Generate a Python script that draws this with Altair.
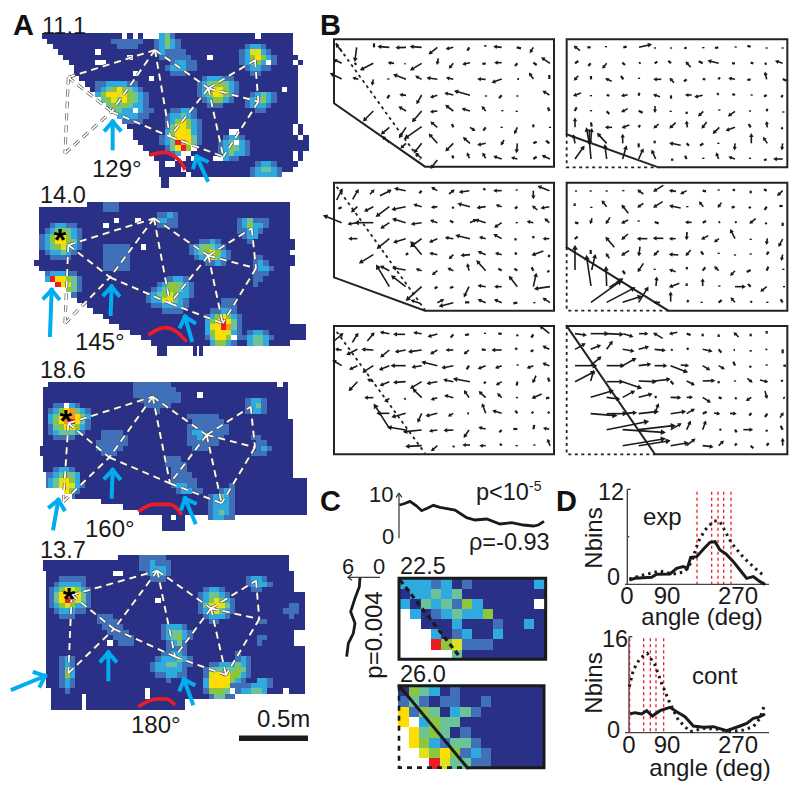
import math
import altair as alt
import pandas as pd

# ---------- palette of the firing-rate maps ----------
LEVELS = {"0": "#2a3086", "1": "#3f70b8", "2": "#2eaae1", "3": "#6cc398", "4": "#8cc63f",
          "5": "#dde21f", "6": "#ffdd00", "7": "#f7941d", "8": "#ed1c24"}
NAVY_CELL = 16 / 3

# ---------- panel A maps: each row lists "column:level" change points ----------
MAP1 = [
"0:0 15:. 16:0 17:. 18:0 19:. 22:2 23:3 24:1 25:0 40:. 41:0 47:.",
"1:0 13:1 19:0 21:1 22:2 23:4 24:2 25:1 26:0 47:.",
"2:0 14:1 18:0 21:1 22:2 23:3 24:2 25:1 26:0 38:1 39:2 41:1 42:0 47:.",
"3:0 10:. 11:0 21:1 22:2 23:1 25:1 27:0 37:1 38:2 39:5 41:2 42:1 43:0 47:.",
"4:0 16:. 17:0 22:1 24:1 27:1 28:0 31:. 32:0 37:1 38:2 39:4 40:6 41:4 42:2 43:1 44:0 48:.",
"5:0 10:. 12:0 24:1 25:2 27:1 29:0 37:1 38:2 39:3 40:4 41:2 42:. 43:1 44:0 47:. 48:0 49:.",
"6:0 23:1 24:2 27:1 29:0 38:1 39:2 41:1 43:0 48:.",
"6:0 17:. 18:0 24:1 27:0 39:1 41:0 48:.",
"7:0 20:. 21:0 30:1 31:2 34:1 36:0 48:.",
"8:0 10:1 12:2 16:1 18:0 29:1 30:2 31:3 32:4 34:3 35:2 36:1 37:0 48:.",
"9:0 10:1 11:2 12:3 13:4 14:6 15:4 16:3 17:2 18:1 19:0 29:1 30:2 31:4 32:5 33:6 34:4 35:2 36:1 37:0 45:. 46:0 48:.",
"10:2 11:4 12:6 14:5 15:6 16:4 17:3 18:2 19:1 20:0 29:1 30:2 31:4 32:6 33:5 34:4 35:2 36:1 37:0 39:1 40:2 41:3 42:2 43:1 44:0 48:.",
"11:3 12:4 13:5 14:4 15:6 16:4 17:3 18:2 19:1 20:0 30:1 31:2 32:4 34:2 35:1 36:0 38:1 39:2 40:3 41:4 42:2 43:1 44:0 48:.",
"12:3 13:4 14:3 15:4 16:3 17:2 19:1 20:0 31:1 34:0 38:1 39:2 42:1 43:0 48:.",
"13:3 15:2 17:. 18:2 19:1 21:0 24:1 26:2 28:1 29:0 40:1 42:0 48:.",
"14:2 18:1 20:0 23:1 24:2 26:3 27:2 28:1 29:0 48:.",
"15:1 19:0 23:1 24:2 25:4 26:6 27:4 28:2 29:1 30:0 48:.",
"16:0 23:1 24:3 25:5 26:6 27:4 28:2 29:1 30:0 47:. 48:0 49:.",
"17:0 23:2 24:4 25:6 27:5 28:2 29:1 30:0 35:. 37:0 47:. 48:0 49:.",
"17:0 22:1 23:2 24:4 25:6 28:3 29:1 30:0 34:1 35:2 37:1 38:0 48:. 49:0 50:.",
"18:0 22:1 23:2 24:3 25:8 26:7 27:6 28:3 29:1 30:0 33:1 34:2 35:3 36:. 37:2 38:1 39:0 50:.",
"19:0 23:1 24:3 25:6 26:8 27:4 28:. 29:0 33:1 34:2 35:4 36:3 37:2 38:1 39:0 50:.",
"20:0 24:1 25:2 26:. 28:0 29:0 33:1 34:2 35:3 36:2 38:1 39:0 47:. 48:0 49:.",
"21:0 25:. 27:0 28:. 29:0 32:. 34:2 35:1 37:0 47:. 48:0 49:.",
"22:0 23:. 25:0 40:1 41:2 43:1 44:0 48:.",
"22:0 26:. 27:0 39:1 40:2 41:3 43:2 44:1 45:0 47:.",
"22:0 27:. 28:0 39:1 40:2 44:1 45:.",
"22.4:0 23.8:.",
"22.4:0 23.8:.",
]
MAP2 = [
"9:0 12:1 15:0 47:.",
"0:0 12:1 15:0 47:.",
"0:0 22:1 24:2 25:1 26:0 47:.",
"0:0 14:. 15:0 18:. 19:0 21:1 22:2 24:1 26:0 37:1 38:2 39:3 40:1 43:0 47:.",
"0:0 2:1 3:2 5:1 7:0 12:. 13:0 22:1 26:0 37:1 38:2 39:4 40:2 42:1 43:0 47:.",
"0:0 1:1 2:2 3:3 4:4 5:3 6:2 7:1 8:0 37:1 39:2 41:1 42:0 47:.",
"0:1 1:2 2:4 3:5 4:6 5:4 6:2 7:1 8:0 38:1 39:2 41:0 47:.",
"0:1 1:2 2:4 3:6 5:4 6:3 7:1 8:0 30:1 32:2 33:1 34:0 39:1 40:0 48:.",
"0:1 1:2 2:3 3:4 4:5 5:3 6:2 7:1 8:0 12:1 17:0 19:. 20:0 28:1 29:2 30:3 31:4 32:3 33:2 34:1 35:0 48:.",
"0:0 1:1 2:2 4:3 5:2 6:1 7:0 12:1 17:0 28:1 29:2 30:3 31:4 32:6 33:4 34:2 35:1 36:0 47:.",
"0:0 2:1 6:0 12:1 17:0 29:1 30:2 31:3 32:5 33:3 34:2 35:1 36:0 40:1 42:0 48:.",
"-1:0 12:1 17:0 31:1 33:2 34:1 35:0 40:1 41:2 42:1 43:0 48:.",
"0:0 12:1 17:0 40:1 41:2 43:1 44:0 47:.",
"1:1 2:2 5:1 7:0 40:1 43:0 47:.",
"1:2 2:8 3:6 5:4 6:3 7:1 8:0 24:1 25:2 27:1 28:0 40:1 42:0 47:.",
"3:8 4:6 5:5 6:3 7:1 8:0 22:1 23:2 24:4 26:3 27:2 28:1 29:0 40:1 41:0 47:.",
"5:4 6:3 7:1 8:0 21:1 22:2 23:3 24:4 26:3 27:2 28:1 29:0 47:.",
"6:1 7:0 20:1 21:2 22:3 23:4 24:5 25:4 26:2 28:1 29:0 47:.",
"7:0 20:1 21:2 23:5 24:6 25:3 26:2 27:1 28:0 34:1 37:0 47:.",
"9:0 21:1 23:2 27:1 28:0 34:1 37:0 47:.",
"10:0 23:1 27:0 32:1 34:2 36:1 37:0 47:.",
"12:0 31:1 32:2 33:4 34:6 35:4 36:2 37:1 38:0 47:.",
"13:0 31:2 32:4 33:6 34:8 35:6 36:3 37:1 38:0 47:.",
"15:0 31:2 32:5 33:6 34:8 35:7 36:3 37:1 38:0 50:.",
"17:0 31:2 32:4 33:6 35:5 36:2 37:1 38:0 39:1 40:2 42:1 43:0 50:.",
"19:0 31:1 32:3 33:6 35:4 36:. 37:1 38:1 39:2 40:3 42:2 43:1 44:0 50:.",
"21:0 32:2 33:4 35:2 36:1 37:0 39:2 40:3 42:2 43:0 47:.",
"22:0 24:. 28.75:0 29.5:. 30:0 30.75:.",
"22:0 24:. 28.75:0 29.5:. 30:0 30.75:.",
]
MAP3 = [
"1:0 17:1 24:0 44:. 45:0 46:.",
"0:0 17:1 25:0 46:.",
"0:0 17:1 26:0 29:. 30:0 46:.",
"0:0 18:1 26:0 38:1 39:2 41:1 42:0 46:.",
"0:0 2:1 4:. 5:2 6:1 7:0 19:1 24:0 38:1 39:2 40:3 41:1 42:0 46:.",
"0:0 1:1 2:2 3:4 4:6 5:7 6:3 7:2 8:1 9:0 21:1 22:0 38:1 39:2 41:1 42:0 46:.",
"0:0 1:2 2:3 3:6 4:8 5:7 6:6 7:4 8:2 9:0 27:1 33:0 46:.",
"0:0 1:2 2:4 3:6 4:7 5:8 6:6 7:3 8:1 9:0 28:1 34:0 47:.",
"0:0 1:1 2:3 3:4 4:6 6:4 7:2 8:1 9:0 27:1 35:0 47:.",
"0:0 1:1 2:2 3:3 6:2 7:1 8:0 11:1 15:0 27:1 28:2 30:1 35:0 47:.",
"0:0 2:1 6:0 11:1 16:0 27:1 29:2 30:1 34:0 39:1 41:0 47:.",
"0:0 10:1 16:0 27:1 33:0 40:1 42:0 47:.",
"-0.5:0 10:1 15:0 28:1 31:0 40:1 41:2 42:1 43:0 47:.",
"-0.5:0 11:1 14:0 39:1 42:0 47:.",
"0:0 23:1 26:0 47:.",
"0:0 23:1 27:0 47:.",
"0:0 2:1 3:2 5:1 6:0 24:1 27:0 47:.",
"0.7:1 2:2 3:3 4:4 5:3 6:2 7:0 24:1 28:0 47:.",
"0.7:1 1:2 2:3 3:5 4:6 5:4 6:2 7:0 24:1 29:0 49.5:.",
"0.7:1 1:2 2:3 3:6 5:5 6:2 7:1 8:0 24:1 25:2 27:1 29:0 35:1 36:0 49.5:.",
"4:6 5:4 6:1 7:0 25:1 26:2 28:1 30:0 33:1 34:2 35:1 36:0 49.5:.",
"5.5:1 6:0 31:1 32:2 33:3 34:2 35:1 36:0 49.5:.",
"11:0 31:1 32:2 35:1 36:0 49.5:.",
"15:0 31:1 32:2 35:1 36:0 49.5:.",
"18:0 31:1 32:2 33:3 34:2 35:1 36:0 49.5:.",
"22.4:0 24:. 25:0 26.7:. 31:1 32:2 34:1 36:.",
"22.4:0 26.7:.",
"22.4:0 26.7:.",
]
MAP4 = [
"14:0 18:1 23:0 46:.",
"0:0 18:1 20:2 21:1 24:0 46:.",
"0:0 18:1 20:2 23:1 24:0 46:.",
"0.6:0 13:. 15:0 19:1 20:2 21:3 22:2 23:1 24:0 47:.",
"0.6:0 3:1 8:0 20:1 23:0 38:1 39:2 41:1 42:0 47:.",
"0.6:0 2:1 3:2 7:1 8:0 38:1 39:2 42:1 43:0 47:.",
"0.6:0 1:1 2:2 3:4 4:6 5:5 6:4 7:2 8:1 9:0 30:1 31:2 33:1 34:0 39:1 41:0 47:.",
"0.6:0 1:1 2:3 3:6 4:7 5:8 6:6 7:3 8:1 9:0 29:1 30:2 31:3 33:2 34:1 35:0 49:.",
"0.6:0 1:1 2:3 3:6 4:8 5:7 6:5 7:3 8:1 9:0 21:. 22:0 29:1 30:2 31:4 32:5 33:4 34:2 35:1 36:0 49:.",
"0.6:0 1:1 2:2 3:4 4:5 5:4 6:2 8:1 9:0 29:1 30:3 31:5 32:6 33:5 34:3 35:1 36:0 46:1 48:0 49:.",
"0.6:0 2:1 3:2 6:1 8:0 29:1 30:2 31:4 32:5 33:3 34:2 35:1 36:0 45:1 48:0 49:.",
"0.6:0 3:1 6:0 10:1 13:0 30:1 31:2 34:1 35:0 46:1 47:0 49:.",
"0.6:0 10:1 14:0 31:1 33:0 40:1 42:0 49:.",
"0.6:0 11:1 15:0 22:1 23:2 26:1 27:0 49:.",
"0.6:0 12:1 16:0 22:1 23:2 24:3 26:2 27:1 28:0 47:.",
"0.6:0 13:1 17:0 22:1 23:2 24:3 25:4 26:2 27:1 28:0 40:1 42:0 47:.",
"0.6:0 12:. 13:0 14:1 17:0 23:1 24:2 25:3 26:1 27:0 40:1 41:0 47:.",
"0.6:0 23:1 27:0 49:.",
"0.6:0 22:1 24:2 26:1 27:0 36:1 37:0 49:.",
"0.6:0 3:1 4:2 5:1 6:0 21:1 22:2 25:3 26:2 27:1 28:0 36:1 37:2 38:1 39:0 49:.",
"0.6:0 3:1 4:2 5:1 6:0 20:1 21:2 23:3 25:2 26:1 28:0 31:1 33:2 36:3 37:2 38:1 39:0 49:.",
"0.6:0 3:1 4:3 5:2 6:0 20:1 21:2 26:1 27:0 30:1 31:3 36:4 37:3 38:1 39:0 49:.",
"0.6:0 3:1 4:4 5:2 6:0 21:1 23:2 25:1 27:0 30:1 31:5 32:6 35:4 37:2 38:1 39:0 49:.",
"0.6:0 3:1 4:2 5:1 6:0 23:1 24:0 30:2 31:6 35:4 36:2 37:1 38:0 40:2 42:1 43:0 49:.",
"0.6:0 3:1 4:2 5:1 6:0 30:2 31:6 34:5 35:1 37:1 39:2 42:1 43:0 49:.",
"1.5:0 4:1 5:0 19:. 20:0 30:1 31:4 34:3 35:. 36:1 37:2 39:3 41:2 42:0 45:. 46:0 49:.",
"1.5:0 7.25:. 8:0 19:. 20:0 31:1 32:3 34:1 36:.",
"1.5:0 7.25:. 8:0 26.6:.",
"1.5:0 7.25:. 8:0 26.6:.",
]
MAP_ORIGINS = [(42.0, 33.3), (39.3, 201.7), (42.7, 381.7), (43.3, 555.0)]

# ---------- panel C maps, one character per bin ----------
BINS_C1 = ["22212010000002", "02232300000000", "2032314200000.", ".2012322400000",
           "..000200010020", "...20120020000", "...84511100000", ".....300000000"]
BINS_C2 = ["04320100000000", "13101100100000", "61430231000000", "6.243300000000",
           ".6343010000000", ".6421331000000", "..546412100000", "...85331100000"]

# ---------- panel A graph: node positions of the place-field triangulation ----------
GRAPH_EDGES = ["at", "ab", "tb", "tc", "tf", "bf", "fg", "cd", "ce", "cg", "de", "eg", "cf", "ah", "hb"]
GRAPHS = [
    ((0, 0), dict(a=(205, 232), t=(465, 150), b=(335, 335), c=(625, 265), d=(765, 180), e=(775, 305), f=(510, 410), g=(670, 470), h=(195, 460))),
    ((0, 190), dict(a=(205, 165), t=(462, 85), b=(330, 262), c=(625, 197), d=(755, 115), e=(768, 235), f=(510, 340), g=(668, 400), h=(195, 400))),
    ((0, 370), dict(a=(205, 160), t=(458, 80), b=(328, 262), c=(620, 195), d=(752, 110), e=(765, 232), f=(510, 340), g=(665, 400), h=(190, 395))),
    ((0, 550), dict(a=(215, 135), t=(472, 62), b=(342, 237), c=(633, 175), d=(768, 92), e=(778, 207), f=(525, 320), g=(678, 375), h=(205, 370))),
]
RED_ARCS = [
    ((0, 0), [(450, 465), (490, 457), (525, 470), (545, 490), (555, 510)]),
    ((0, 190), [(445, 435), (470, 420), (495, 413), (530, 425), (560, 455)]),
    ((0, 370), [(415, 425), (460, 403), (510, 403), (530, 415), (545, 435)]),
    ((0, 550), [(415, 470), (470, 447), (500, 447), (525, 465)]),
]
BLUE_ARROWS = [
    ((0, 0), [(338, 445, 338, 365), (622, 540, 590, 470)]),
    ((0, 190), [(150, 435, 155, 300), (332, 372, 335, 290), (575, 450, 555, 380)]),
    ((0, 370), [(160, 475, 175, 390), (335, 380, 338, 300), (585, 457, 555, 385)]),
    ((0, 550), [(38, 418, 135, 378), (325, 388, 325, 308), (578, 460, 552, 388)]),
]
ASTERISKS = [(60, 241), (65.7, 422), (69, 600)]
SCALE_BAR = (239, 308, 735.5, 741)

# ---------- panel B: flow vectors (tail x, tail y, head x, head y) ----------
B1 = [(66,125,50,105),(110,112,105,150),(162,112,162,100),(208,112,178,110),(258,112,232,113),(305,112,275,110),(352,112,330,130),(400,112,382,116),(448,112,442,122),(496,105,496,110),(545,112,525,110),(603,115,590,112),(640,112,632,125),
(65,160,45,150),(108,165,105,158),(160,160,125,178),(222,160,208,158),(255,160,255,163),(305,160,275,178),(355,145,352,160),(400,160,390,172),(450,158,432,162),(497,160,487,162),(545,158,528,158),(592,160,585,168),(650,165,640,158),(690,160,668,145),
(65,207,35,192),(115,208,102,204),(160,208,157,222),(205,205,205,209),(258,208,225,195),(305,208,290,200),(352,208,325,204),(400,208,383,204),(497,208,477,207),(545,207,520,216),(597,207,592,207),(640,207,630,192),(688,207,688,195),
(208,255,202,265),(258,256,243,254),(305,255,292,278),(352,256,335,261),(400,255,378,250),(450,256,408,244),(498,256,498,260),(545,256,537,265),(592,256,592,260),(688,255,672,245),
(160,303,133,330),(258,303,240,292),(305,303,280,332),(352,303,335,305),(400,303,380,288),(450,303,430,297),(497,303,488,292),(547,300,547,304),(590,302,590,306),(688,303,684,292),
(208,352,187,370),(258,352,240,380),(305,350,258,383),(352,352,335,338),(400,352,396,342),(450,352,462,360),(497,352,490,362),(545,350,545,354),(592,352,585,368),(640,352,640,343),(690,350,690,354),
(208,398,190,382),(258,400,245,412),(305,400,285,425),(352,400,330,375),(400,400,380,420),(450,400,433,385),(497,400,477,404),(552,390,545,402),(592,400,590,424),(650,395,640,400),(688,400,678,392),
(305,445,290,432),(352,450,335,472),(400,445,397,436),(448,445,443,432),(497,445,490,432),(545,447,525,440),(592,447,578,443),(650,440,640,447),(690,447,670,438)]
B2 = [(60,122,45,110),(92,112,82,112),(138,108,138,112),(200,110,190,112),(237,112,270,104),(285,112,285,116),(333,116,333,112),(380,112,373,116),(430,111,430,115),(475,112,465,114),(527,109,527,113),(572,110,562,108),(620,116,620,112),(668,112,668,116),
(55,153,45,160),(92,160,85,168),(140,160,130,172),(195,165,187,158),(242,158,237,160),(292,155,284,160),(333,160,325,152),(392,172,380,158),(428,160,416,154),(476,160,448,153),(525,160,516,160),(580,160,572,158),(620,160,614,162),(668,160,650,154),
(55,197,45,208),(93,198,93,208),(155,214,140,207),(190,208,183,198),(237,203,237,207),(304,208,285,208),(342,218,332,207),(380,208,372,214),(436,208,428,207),(480,202,475,208),(525,208,510,205),(572,208,562,210),(620,208,616,190),(680,212,668,207),
(63,249,44,256),(93,255,93,259),(148,257,140,255),(203,254,188,257),(238,248,236,257),(300,260,284,255),(333,266,333,256),(395,255,380,255),(428,256,408,260),(475,255,472,249),(525,255,517,252),(575,253,575,257),(620,255,612,260),(668,255,664,262),
(50,292,44,303),(93,300,93,304),(148,312,140,304),(203,296,188,304),(248,308,236,302),(285,288,285,304),(332,302,332,306),(380,305,380,312),(430,304,418,316),(478,298,478,302),(525,304,508,316),(570,301,570,305),(622,296,620,304),(670,304,670,308),
(45,352,45,328),(95,350,93,337),(156,352,140,352),(208,345,190,352),(240,345,236,352),(296,342,284,352),(347,338,332,352),(382,352,380,337),(440,336,428,352),(478,352,462,368),(525,352,502,360),(572,352,566,342),(622,352,620,338),(668,357,664,352),
(45,400,41,378),(88,400,80,358),(92,395,95,360),(88,358,88,400),(140,400,115,373),(188,400,188,377),(236,412,236,400),(284,400,284,392),(362,406,333,400),(387,407,380,400),(430,400,420,407),(475,398,475,402),(525,400,524,416),(574,400,574,375),(622,400,612,385),(668,400,666,416),
(45,447,70,412),(93,447,88,390),(140,447,135,408),(188,447,198,412),(236,447,248,420),(287,447,277,424),(333,449,340,449),(380,447,375,437),(430,443,430,447),(476,447,470,432),(525,447,510,442),(570,443,570,447),(620,448,612,451),(668,447,645,447)]
B3 = [(50,90,65,60),(98,88,113,62),(150,73,160,62),(180,77,210,62),(257,62,228,56),(298,70,305,62),(352,62,338,54),(387,72,400,62),(448,62,422,66),(496,60,490,55),(545,62,525,62),(590,58,590,62),(640,62,640,82),(688,62,658,50),
(65,112,55,116),(112,110,97,124),(160,110,137,122),(208,110,172,137),(257,110,220,118),(305,110,285,104),(352,110,338,112),(400,110,398,116),(450,110,418,102),(497,110,475,113),(545,110,532,106),(592,110,585,116),(652,120,640,110),(688,110,667,114),
(65,158,15,138),(112,158,88,162),(160,158,110,158),(208,158,186,173),(257,158,222,148),(305,158,278,162),(352,158,335,152),(400,158,390,152),(450,158,466,150),(497,158,470,150),(545,158,527,170),(590,156,590,160),(640,158,625,155),(688,158,677,148),
(112,206,90,206),(208,206,175,233),(257,206,225,216),(305,206,275,228),(352,206,332,215),(400,206,380,203),(450,206,412,197),(497,206,482,202),(545,206,525,195),(590,208,583,208),(640,205,640,198),(688,206,673,206),
(160,254,122,277),(305,254,275,218),(265,250,257,254),(352,254,333,250),(400,254,390,264),(450,254,427,256),(497,254,478,246),(545,254,530,250),(590,254,585,247),(670,243,640,254),(688,254,686,262),
(208,302,185,290),(257,300,222,294),(305,302,292,298),(352,302,340,312),(400,302,387,296),(447,302,443,285),(497,302,473,275),(545,302,535,296),(592,302,583,296),(640,302,635,292),(688,302,682,306),
(208,350,172,290),(257,350,218,320),(352,350,344,356),(400,350,390,354),(447,350,434,377),(497,350,478,347),(545,350,528,350),(592,350,570,322),(640,350,648,314),(690,350,648,356),
(305,350,262,388),(300,400,277,392),(352,398,368,390),(400,398,362,408),(448,397,435,397),(497,398,478,390),(545,398,527,390),(592,398,580,400),(643,396,643,400),(690,398,672,386)]
B4 = [(48,61,48,65),(92,61,92,65),(140,61,140,65),(190,60,190,64),(250,72,236,62),(310,46,284,62),(348,64,332,62),(380,62,365,70),(438,64,428,62),(476,58,476,62),(525,62,518,58),(572,70,572,62),(620,62,612,58),(668,62,655,74),
(44,108,44,100),(94,110,94,114),(140,110,128,95),(205,130,188,108),(250,100,236,110),(308,95,284,110),(362,114,333,108),(382,108,382,112),(430,110,420,98),(484,98,476,110),(524,110,515,113),(572,110,567,115),(620,110,614,120),(668,108,658,108),
(55,160,45,157),(96,145,92,158),(150,142,140,158),(204,150,188,158),(236,151,236,155),(296,160,284,156),(395,157,380,157),(438,153,428,158),(480,155,476,158),(530,155,525,158),(587,146,572,158),(620,158,616,162),(668,158,668,168),
(53,200,44,207),(163,232,140,205),(204,192,188,206),(262,206,236,206),(310,205,284,205),(347,206,332,206),(381,186,380,205),(445,197,428,206),(477,206,466,214),(525,206,513,182),(572,206,572,210),(622,205,620,220),(668,207,658,226),
(45,300,45,232),(92,240,92,252),(148,265,140,253),(207,242,188,254),(240,230,237,254),(296,242,284,254),(355,255,332,253),(392,240,380,254),(430,254,423,244),(476,248,476,252),(525,253,525,257),(572,250,572,254),(626,245,620,254),(668,254,665,268),
(93,348,80,262),(95,300,105,258),(195,312,188,302),(250,280,236,302),(284,296,284,300),(347,305,332,300),(381,298,380,291),(436,292,428,302),(476,302,466,292),(525,302,514,314),(572,300,560,306),(625,290,620,302),(670,296,670,300),
(140,348,138,295),(148,352,185,328),(288,348,290,325),(358,340,332,350),(380,348,380,340),(428,348,428,330),(478,346,478,350),(525,350,552,350),(572,350,564,342),(620,350,605,362),(672,348,672,352),
(93,397,180,335),(140,397,220,355),(188,397,240,380),(236,397,262,355),(300,397,285,398),(332,395,332,370),(382,397,385,390),(425,395,425,399),(485,390,476,398),(525,397,515,386),(575,393,572,398),(622,395,622,399),(668,397,662,388)]
B5 = [(42,78,66,58),(97,82,112,58),(142,78,160,56),(208,56,185,52),(255,58,225,58),(305,56,285,53),(352,57,328,64),(400,58,392,68),(447,58,435,60),(495,53,495,57),(545,57,535,55),(592,58,592,64),(640,58,634,68),(688,55,663,35),
(65,105,50,103),(112,103,84,117),(160,105,130,103),(208,105,185,124),(257,105,230,110),(305,105,270,110),(352,105,335,115),(400,105,382,105),(447,105,435,115),(497,105,485,103),(545,105,520,105),(592,103,585,100),(640,105,632,110),(688,103,672,95),
(65,152,42,138),(112,152,92,162),(160,152,132,170),(208,152,182,163),(257,152,218,152),(305,152,280,156),(352,152,310,142),(400,152,370,158),(447,152,440,163),(497,152,478,160),(545,152,530,158),(593,148,593,152),(640,152,625,158),(688,152,672,146),
(112,200,90,224),(160,200,146,194),(208,200,184,210),(257,200,225,202),(305,200,275,218),(352,200,325,205),(400,200,375,195),(450,200,405,192),(497,200,492,206),(545,200,532,208),(592,200,590,212),(648,182,640,200),(688,200,684,188),
(160,248,138,248),(208,250,197,258),(257,250,253,253),(305,248,282,225),(352,248,337,253),(400,248,378,242),(447,248,435,230),(497,248,480,232),(545,248,535,238),(592,246,590,250),(665,237,640,248),(688,248,678,250),
(208,295,175,295),(257,295,220,305),(305,295,295,318),(352,295,322,302),(400,295,388,302),(447,295,442,295),(497,295,488,270),(545,295,522,288),(592,295,586,287),(640,295,635,290),(688,295,684,290),
(208,340,165,272),(257,345,208,337),(305,345,255,350),(352,345,332,348),(400,345,376,346),(447,345,434,364),(497,342,480,338),(545,345,538,352),(592,342,580,342),(643,330,640,343),(688,343,674,340),
(305,392,262,394),(352,392,337,405),(402,392,400,397),(450,390,432,390),(497,392,483,392),(545,392,540,386),(590,390,590,394),(643,388,643,392),(690,392,684,376)]
B6 = [(45,56,75,60),(92,56,140,56),(140,56,185,58),(190,56,215,64),(237,56,260,56),(308,70,284,56),(352,52,332,56),(392,60,380,56),(428,56,428,64),(476,58,476,66),(536,66,524,55),(572,56,572,64),(620,48,620,56),
(45,103,72,88),(92,103,118,92),(140,103,155,82),(188,103,218,108),(236,103,262,96),(284,103,312,106),(333,103,338,106),(380,103,386,100),(428,103,452,108),(476,103,484,113),(521,105,525,105),(572,105,572,110),(620,101,618,105),(668,103,668,115),
(45,152,105,152),(92,198,100,170),(45,200,100,172),(92,152,120,128),(140,152,188,152),(188,152,224,132),(236,152,268,148),(284,152,316,152),(332,152,378,170),(362,150,382,152),(428,152,446,163),(476,152,490,160),(525,152,520,140),(572,152,570,158),(620,148,620,152),(670,152,678,152),
(140,200,185,200),(188,200,240,218),(236,198,284,200),(284,198,326,193),(332,198,340,208),(380,198,400,208),(428,198,460,197),(476,198,476,205),(525,196,525,200),(562,190,574,200),(600,195,620,200),(664,195,668,200),
(92,247,155,228),(140,247,175,252),(188,247,220,230),(236,247,272,238),(284,247,290,245),(332,247,358,248),(380,247,394,247),(428,247,448,260),(476,247,485,250),(525,248,530,252),(574,247,562,255),(615,228,620,247),(670,247,674,250),
(92,296,165,302),(140,296,195,296),(188,296,225,293),(236,296,290,290),(284,296,294,270),(332,296,372,290),(380,296,400,284),(428,296,440,290),(462,294,476,296),(510,295,525,296),(568,302,574,294),(615,306,622,296),(660,308,668,296),
(140,344,260,320),(188,344,310,352),(236,344,340,332),(332,344,360,328),(380,344,390,322),(428,344,436,322),(478,344,484,344),(525,344,530,352),(550,344,574,344),(620,344,620,350),(668,344,662,332),
(188,392,310,372),(236,392,325,378),(332,392,380,384),(380,392,402,374),(428,392,455,395),(476,392,488,380),(525,392,530,385),(572,392,580,400),(620,392,626,384),(668,392,668,374)]
VECTOR_PANELS = [((320, 10), B1), ((560, 10), B2), ((320, 170), B3), ((560, 170), B4), ((320, 315), B5), ((560, 315), B6)]

FRAMES_SOLID = [
    ((320, 10), [(42, 88), (702, 88), (702, 470), (315, 470), (42, 280), (42, 88)]),
    ((560, 10), [(20, 373), (20, 88), (682, 88), (682, 472), (295, 472), (20, 373)]),
    ((320, 170), [(42, 38), (702, 38), (702, 422), (315, 422), (42, 322), (42, 38)]),
    ((560, 170), [(20, 232), (20, 38), (682, 38), (682, 422), (325, 422), (20, 232)]),
    ((320, 315), [(42, 33), (702, 33), (702, 418), (42, 418), (42, 33)]),
    ((560, 315), [(20, 33), (682, 33), (682, 418), (285, 418), (20, 33)]),
]
FRAMES_DOTTED = [
    ((320, 10), [(48, 100), (300, 450)]),
    ((560, 10), [(20, 373), (20, 472), (295, 472)]),
    ((320, 170), [(50, 50), (315, 420)]),
    ((560, 170), [(20, 232), (20, 422), (325, 422)]),
    ((320, 315), [(50, 50), (315, 415)]),
    ((560, 315), [(20, 33), (20, 418), (285, 418)]),
]

# ---------- panel C marginal curves ----------
C_TOP = [(238,105),(250,102),(270,94),(290,108),(305,122),(325,113),(340,106),(360,112),(405,120),(440,143),(465,150),(500,147),(540,162),(575,158),(610,165),(640,168),(655,165),(672,154)]
C_LEFT = [(120,322),(118,350),(105,385),(92,425),(105,460),(100,490),(85,520),(80,560)]

# ---------- panel D histograms ----------
D1_SOLID = [(178,330),(195,325),(245,322),(260,313),(300,312),(320,295),(340,290),(352,295),(362,262),(380,260),(400,238),(420,217),(435,215),(450,240),(468,252),(490,275),(510,300),(530,325),(550,320),(570,335),(585,343)]
D1_DOTTED = [(178,327),(220,315),(270,303),(310,312),(345,305),(365,275),(385,215),(405,180),(432,152),(450,155),(485,220),(520,262),(555,295),(585,320)]
D2_SOLID = [(180,732),(195,728),(215,732),(230,722),(247,738),(270,722),(300,712),(320,725),(345,740),(370,768),(400,772),(430,770),(470,782),(510,768),(530,760),(550,745),(565,742),(585,732)]
D2_DOTTED = [(178,650),(190,600),(210,565),(232,550),(255,585),(275,640),(300,700),(325,750),(360,785),(400,775),(450,778),(475,785),(520,780),(550,770),(570,745),(585,700)]
D1_RED = [381, 425, 444, 461, 483]
D2_RED = [179, 221, 241, 258, 281]

# ---------- canvas scales: one data unit per picture pixel ----------
SX = alt.Scale(domain=[8, 792], range=[0, 784], nice=False, zero=False)
SY = alt.Scale(domain=[8, 784], range=[0, 776], nice=False, zero=False)
X = lambda f="x": alt.X(f"{f}:Q", scale=SX, axis=None)
Y = lambda f="y": alt.Y(f"{f}:Q", scale=SY, axis=None)


def zoomed(off, x, y):
    return off[0] + x / 3, off[1] + y / 3


def rule_layer(segs, **mark):
    df = pd.DataFrame(segs, columns=["x", "y", "x2", "y2"])
    mark.setdefault("strokeCap", "butt")
    return alt.Chart(df).mark_rule(**mark).encode(x=X(), y=Y(), x2="x2:Q", y2="y2:Q")


def line_layer(off, lines, **mark):
    rows = []
    for k, pts in enumerate(lines):
        for i, (a, b) in enumerate(pts):
            px, py = zoomed(off, a, b)
            rows.append(dict(k=k, i=i, x=px, y=py))
    mark.setdefault("strokeCap", "butt")
    return alt.Chart(pd.DataFrame(rows)).mark_line(**mark).encode(
        x=X(), y=Y(), detail="k:N", order="i:Q")


def text_layer(items, size=23, **mark):
    df = pd.DataFrame(items, columns=["x", "y", "t"])
    mark.setdefault("font", "Liberation Sans")
    mark.setdefault("color", "#1a1a1a")
    mark.setdefault("align", "left")
    mark.setdefault("baseline", "alphabetic")
    return alt.Chart(df).mark_text(fontSize=size, **mark).encode(x=X(), y=Y(), text="t:N")


# heat cells, edges snapped to whole pixels so rows join without seams
cells = []
for rows, (ox, oy) in zip([MAP1, MAP2, MAP3, MAP4], MAP_ORIGINS):
    for r, row in enumerate(rows):
        toks = [t.split(":") for t in row.split()]
        for (c0, lev), nxt in zip(toks, toks[1:]):
            if lev != ".":
                cells.append(dict(x=round(ox + float(c0) * NAVY_CELL), x2=round(ox + float(nxt[0]) * NAVY_CELL),
                                  y=round(oy + r * NAVY_CELL), y2=round(oy + (r + 1) * NAVY_CELL), c=LEVELS[lev]))
for rows, off, w, h, zx, zy in [(BINS_C1, (320, 470), 31, 30.4, 240, 326), (BINS_C2, (320, 470), 31, 31, 235, 648)]:
    for r, row in enumerate(rows):
        for c, lev in enumerate(row):
            if lev != ".":
                x0, y0 = zoomed(off, zx + c * w, zy + r * h)
                x1, y1 = zoomed(off, zx + (c + 1) * w, zy + (r + 1) * h)
                cells.append(dict(x=round(x0), x2=round(x1), y=round(y0), y2=round(y1), c=LEVELS[lev]))
cells.append(dict(x=SCALE_BAR[0], x2=SCALE_BAR[1], y=SCALE_BAR[2], y2=SCALE_BAR[3], c="#1a1a1a"))
heat = alt.Chart(pd.DataFrame(cells)).mark_rect().encode(
    x=X(), x2="x2:Q", y=Y(), y2="y2:Q", color=alt.Color("c:N", scale=None))

# graph edges
edges = []
for off, nodes in GRAPHS:
    for e in GRAPH_EDGES:
        a, b = zoomed(off, *nodes[e[0]]), zoomed(off, *nodes[e[1]])
        edges.append((a[0], a[1], b[0], b[1]))
graph_dark = rule_layer(edges, color="#444444", strokeWidth=3.0, strokeDash=[7, 5])
graph_white = rule_layer(edges, color="white", strokeWidth=1.8, strokeDash=[7, 5])

# red arcs
reds = [line_layer(off, [pts], color="#ed1c24", strokeWidth=3.6, interpolate="monotone") for off, pts in RED_ARCS]

# blue arrows
blue = []
for off, arrows in BLUE_ARROWS:
    for x1, y1, x2, y2 in arrows:
        a, b = zoomed(off, x1, y1), zoomed(off, x2, y2)
        blue.append((a[0], a[1], b[0], b[1]))
        ang = math.atan2(a[1] - b[1], a[0] - b[0])
        for d in (-0.72, 0.72):
            blue.append((b[0] + 11 * math.cos(ang + d), b[1] + 11 * math.sin(ang + d), b[0], b[1]))
blue_layer = rule_layer(blue, color="#00aeef", strokeWidth=4.0, strokeCap="square")

# panel B vectors
shafts, heads, dabs = [], [], []
for off, vecs in VECTOR_PANELS:
    for x1, y1, x2, y2 in vecs:
        a, b = zoomed(off, x1, y1), zoomed(off, x2, y2)
        length = math.hypot(b[0] - a[0], b[1] - a[1])
        if length < 4.5:
            dabs.append((a[0], a[1], b[0], b[1]))
        else:
            shafts.append((a[0], a[1], b[0], b[1]))
            heads.append(dict(x=b[0], y=b[1],
                              a=math.degrees(math.atan2(b[0] - a[0], -(b[1] - a[1]))) % 360,
                              s=min(34, 12 + length * 0.9)))
vec_shaft = rule_layer(shafts, color="#1a1a1a", strokeWidth=1.6)
vec_dab = rule_layer(dabs, color="#1a1a1a", strokeWidth=2.2)
vec_head = alt.Chart(pd.DataFrame(heads)).mark_point(
    shape="triangle-up", filled=True, color="#1a1a1a", opacity=1, strokeWidth=0).encode(
    x=X(), y=Y(), angle=alt.Angle("a:Q", scale=None), size=alt.Size("s:Q", scale=None))

# panel B frames
frames = [line_layer(off, [pts], color="#222222", strokeWidth=2.0, strokeCap="square") for off, pts in FRAMES_SOLID]
dots = [line_layer(off, [pts], color="#222222", strokeWidth=1.8, strokeDash=[3, 3.5]) for off, pts in FRAMES_DOTTED]

# panel C lines
OFF_C = (320, 470)
c_parts = [
    line_layer(OFF_C, [C_TOP], color="#1a1a1a", strokeWidth=2.8),
    line_layer(OFF_C, [C_LEFT], color="#1a1a1a", strokeWidth=2.8),
    line_layer(OFF_C, [[(237, 205), (237, 72)]], color="#333333", strokeWidth=1.2),
    line_layer(OFF_C, [[(180, 322), (84, 322)]], color="#333333", strokeWidth=1.2),
    line_layer(OFF_C, [[(228, 82), (237, 70), (246, 82)]], color="#333333", strokeWidth=1.2),
    line_layer(OFF_C, [[(96, 313), (84, 322), (96, 331)]], color="#333333", strokeWidth=1.2),
    line_layer(OFF_C, [[(237, 325), (677, 325), (677, 568), (237, 568), (237, 325)]], color="#1a1a1a", strokeWidth=3, strokeCap="square"),
    line_layer(OFF_C, [[(237, 647), (672, 647), (672, 893), (442, 893)], [(240, 650), (442, 893)]], color="#1a1a1a", strokeWidth=3, strokeCap="square"),
    line_layer(OFF_C, [[(240, 330), (415, 555)]], color="#1a1a1a", strokeWidth=3.2, strokeDash=[5, 4]),
    line_layer(OFF_C, [[(237, 647), (237, 893), (442, 893)]], color="#1a1a1a", strokeWidth=2.6, strokeDash=[5, 5]),
]

# panel D lines
OFF_D = (570, 470)
d_parts = [
    line_layer(OFF_D, [[(172, 58), (172, 343), (597, 343)], [(177, 500), (177, 788)], [(165, 788), (597, 788)],
                       [(165, 343), (172, 343)], [(172, 58), (182, 58)], [(172, 200), (178, 200)],
                       [(177, 500), (187, 500)]], color="#444444", strokeWidth=1.4),
    line_layer(OFF_D, [[(x, 65), (x, 343)] for x in D1_RED] + [[(x, 505), (x, 788)] for x in D2_RED],
               color="#ed1c24", strokeWidth=1.3, strokeDash=[3, 3]),
    line_layer(OFF_D, [D1_SOLID, D2_SOLID], color="#1a1a1a", strokeWidth=3),
    line_layer(OFF_D, [D1_DOTTED, D2_DOTTED], color="#1a1a1a", strokeWidth=3, strokeDash=[2.5, 4]),
]

# text
texts = [
    text_layer([(13, 35, "A"), (320, 35, "B"), (320, 511, "C"), (556, 511, "D")], size=29,
               fontWeight="bold", color="#111111"),
    text_layer([(42, 34, "11.1"), (40, 203, "14.0"), (40, 378, "18.6"), (40, 558, "13.7"),
                (400, 574, "22.5"), (400, 682, "26.0"), (476, 500, "p<10"), (469, 550, "ρ=-0.93"),
                (598, 500, "12"), (607, 585, "0"), (602, 647, "16"), (607, 738, "0")], size=23.5),
    text_layer([(92, 177, "129°"), (75, 350, "145°"), (85, 537, "160°"), (131, 733, "180°"), (257, 727, "0.5m"),
                (643, 525, "exp"), (692, 684, "cont")], size=24),
    text_layer([(369, 502, "10"), (382, 544, "0"), (342, 574, "6"), (373, 574, "0")], size=22),
    text_layer([(529, 491, "-5")], size=14),
    text_layer([(627, 604, "0"), (667, 604, "90"), (738, 604, "270"), (702, 625, "angle (deg)"),
                (629, 753, "0"), (667, 753, "90"), (738, 753, "270"), (710, 776, "angle (deg)")],
               size=24, align="center"),
    text_layer([(601.5, 538, "Nbins"), (601.5, 683, "Nbins"), (382, 635, "p=0.004")], size=24,
               align="center", angle=270),
    text_layer([(x, y, "*") for x, y in ASTERISKS], size=32, align="center", baseline="middle",
               fontWeight="bold", color="#000000"),
]

chart = alt.layer(heat, graph_dark, graph_white, *reds, blue_layer, *frames, *dots,
                  vec_shaft, vec_dab, vec_head, *c_parts, *d_parts, *texts).properties(
    width=784, height=776, padding=0,
    autosize=alt.AutoSizeParams(type="none"),
).configure_view(stroke=None)

chart.save("out.html", embed_options={"renderer": "svg", "actions": False})
